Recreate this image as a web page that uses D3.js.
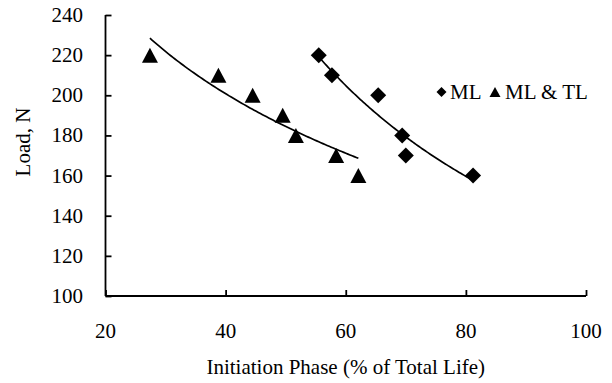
<!DOCTYPE html>
<html>
<head>
<meta charset="utf-8">
<script src="https://cdn.jsdelivr.net/npm/d3@7"></script>
<style>
  html, body { margin: 0; padding: 0; background: #fff; }
  svg { display: block; }
  text { font-family: "Liberation Serif", "Times New Roman", serif; fill: #000; }
</style>
</head>
<body>
<svg id="chart" width="612" height="383"></svg>
<script>
// Initiation phase (% of total life) vs applied load
const mlInitiation = [55.5, 57.7, 65.4, 69.4, 70.0, 81.2];
const mlLoad       = [220, 210, 200, 180, 170, 160];

const mlTlInitiation = [27.4, 38.8, 44.5, 49.5, 51.7, 58.4, 62.1];
const mlTlLoad       = [220, 210, 200, 190, 180, 170, 160];

// Trendline coefficients
// ML:      power fit        Load = a * x^b
// ML & TL: logarithmic fit  Load = a + b * ln(x)
const mlTrendCoef   = [7136, -0.8672];
const mlTlTrendCoef = [470.4, -73.09];

const xTicks = [20, 40, 60, 80, 100];
const yTicks = [100, 120, 140, 160, 180, 200, 220, 240];

const seriesNames = ["ML", "ML & TL"];

const svg = d3.select("#chart");
const fontSize = 21;

const x = d3.scaleLinear().domain([20, 100]).range([105.5, 586]);
const y = d3.scaleLinear().domain([100, 240]).range([296, 15]);

const powerTrend = ([a, b]) => v => a * Math.pow(v, b);
const logTrend   = ([a, b]) => v => a + b * Math.log(v);

// Sample a trend curve across the x-extent of its series
function trendPoints(xs, f) {
  const [lo, hi] = d3.extent(xs);
  return d3.range(0, 101).map(i => {
    const v = lo + (hi - lo) * i / 100;
    return [v, f(v)];
  });
}

const line = d3.line().x(d => x(d[0])).y(d => y(d[1]));

// Axes: ticks point inward
const xAxis = d3.axisTop(x).tickValues(xTicks).tickSize(6).tickFormat("");
const yAxis = d3.axisRight(y).tickValues(yTicks).tickSize(6).tickFormat("");

svg.append("g").attr("transform", `translate(0,${y(100)})`).call(xAxis)
  .call(g => g.selectAll("path, line").attr("stroke", "#000").attr("stroke-width", 1.8))
  .call(g => g.select(".domain").attr("d", `M${x(20)},0H${x(100)}`));
svg.append("g").attr("transform", `translate(${x(20)},0)`).call(yAxis)
  .call(g => g.selectAll("path, line").attr("stroke", "#000").attr("stroke-width", 1.8))
  .call(g => g.select(".domain").attr("d", `M0,${y(240)}V${y(100)}`));

// Tick labels
svg.append("g").selectAll("text").data(xTicks).join("text")
  .attr("x", d => x(d)).attr("y", 338)
  .attr("text-anchor", "middle").attr("font-size", fontSize)
  .text(d => d);
svg.append("g").selectAll("text").data(yTicks).join("text")
  .attr("x", 83).attr("y", d => y(d) + 7)
  .attr("text-anchor", "end").attr("font-size", fontSize)
  .text(d => d);

// Axis titles
svg.append("text").attr("x", x(60)).attr("y", 374)
  .attr("text-anchor", "middle").attr("font-size", fontSize)
  .text("Initiation Phase (% of Total Life)");
svg.append("text").attr("transform", `translate(30,${142}) rotate(-90)`)
  .attr("text-anchor", "middle").attr("font-size", fontSize)
  .text("Load, N");

// Trendlines
svg.append("path").datum(trendPoints(mlTlInitiation, logTrend(mlTlTrendCoef)))
  .attr("d", line).attr("fill", "none").attr("stroke", "#000").attr("stroke-width", 1.7);
svg.append("path").datum(trendPoints(mlInitiation, powerTrend(mlTrendCoef)))
  .attr("d", line).attr("fill", "none").attr("stroke", "#000").attr("stroke-width", 1.7);

// Marker shapes centred on their bounding box
function diamond(r) { return `M0,${-r}L${r},0L0,${r}L${-r},0Z`; }
function triangle(w, h) { return `M0,${-h / 2}L${w / 2},${h / 2}L${-w / 2},${h / 2}Z`; }

svg.append("g").selectAll("path").data(mlInitiation).join("path")
  .attr("transform", (d, i) => `translate(${x(d)},${y(mlLoad[i])})`)
  .attr("d", diamond(8)).attr("fill", "#000");
svg.append("g").selectAll("path").data(mlTlInitiation).join("path")
  .attr("transform", (d, i) => `translate(${x(d)},${y(mlTlLoad[i])})`)
  .attr("d", triangle(16, 15)).attr("fill", "#000");

// Legend
const legend = svg.append("g");
legend.append("path").attr("transform", "translate(441.5,92)").attr("d", diamond(5)).attr("fill", "#000");
legend.append("text").attr("x", 450).attr("y", 99).attr("font-size", fontSize).text(seriesNames[0]);
legend.append("path").attr("transform", "translate(495,92)").attr("d", triangle(11, 10)).attr("fill", "#000");
legend.append("text").attr("x", 505).attr("y", 99).attr("font-size", fontSize).text(seriesNames[1]);
</script>
</body>
</html>
